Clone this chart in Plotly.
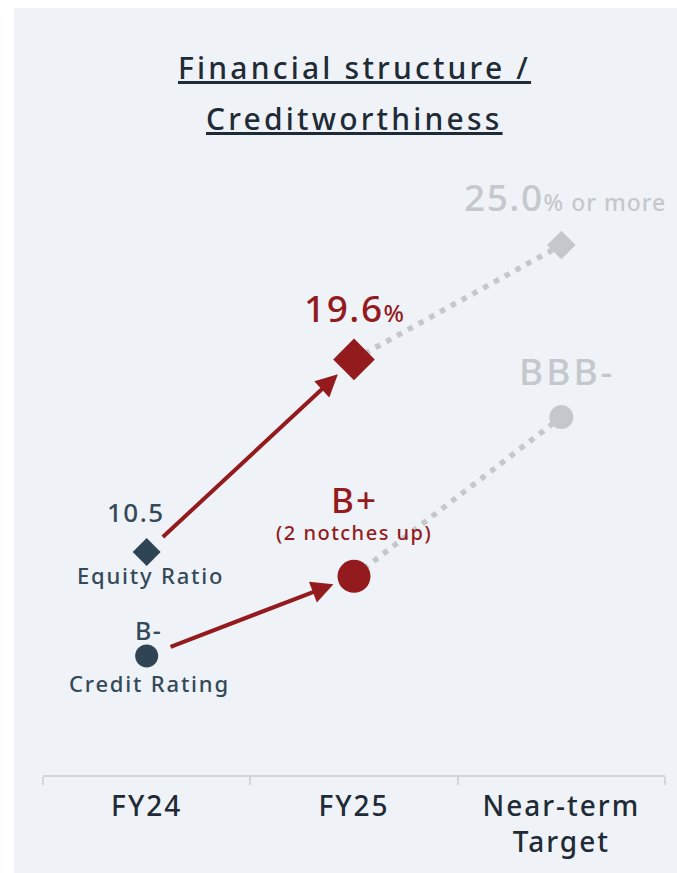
import plotly.graph_objects as go

# ---------------- data ----------------
categories = ["FY24", "FY25", "Near-term Target"]
tick_labels = ["FY24", "FY25", "Near-term<br>Target"]
equity_ratio = [10.5, 19.6, 25.0]
rating_scale = ["B-", "B", "B+", "BB-", "BB", "BB+", "BBB-"]
credit_rating = ["B-", "B+", "BBB-"]
credit_note = "(2 notches up)"
series_names = ["Equity Ratio", "Credit Rating"]
title_lines = ["Financial structure /", "Creditworthiness"]

credit_idx = [rating_scale.index(r) for r in credit_rating]

# ---------------- styles ----------------
FONT = "Noto Sans"
DARK = "#2f4555"
RED = "#931b1e"
GRAY = "#c4c8cc"
TEXT = "#1f2b36"
LABEL = "#34495a"
PANEL = "#eff3f7"
point_colors = [DARK, RED, GRAY]


def sp(text, ls=1.5, size=None):
    style = f"letter-spacing:{ls}px"
    if size:
        style += f";font-size:{size}px"
    return f'<span style="{style}">{text}</span>'


fig = go.Figure()

# dotted projection lines (FY25 -> target)
fig.add_trace(go.Scatter(
    x=categories[1:], y=equity_ratio[1:], mode="lines",
    line=dict(color=GRAY, width=5.5, dash="5.5px,6.8px"),
    hoverinfo="skip", showlegend=False, yaxis="y"))
fig.add_trace(go.Scatter(
    x=categories[1:], y=credit_idx[1:], mode="lines",
    line=dict(color=GRAY, width=5.5, dash="5.5px,6.8px"),
    hoverinfo="skip", showlegend=False, yaxis="y2"))

# markers
fig.add_trace(go.Scatter(
    x=categories, y=equity_ratio, mode="markers", name=series_names[0],
    marker=dict(symbol="diamond", size=[21.5, 32, 22], color=point_colors,
                opacity=1, line=dict(width=0)),
    showlegend=False, yaxis="y"))
fig.add_trace(go.Scatter(
    x=categories, y=credit_idx, mode="markers", name=series_names[1],
    marker=dict(symbol="circle", size=[23, 33, 24], color=point_colors,
                opacity=1, line=dict(width=0)),
    showlegend=False, yaxis="y2"))

ann = []
# titles
for txt, yy in zip(title_lines, [1.132, 1.0496]):
    ann.append(dict(text=sp(txt, 3.2), xref="paper", yref="paper", x=0.5, y=yy,
                    showarrow=False, xanchor="center", yanchor="middle",
                    font=dict(family=FONT, size=30, color=TEXT, weight=500,
                              lineposition="under")))

# arrows FY24 -> FY25
ann.append(dict(x=categories[1], y=equity_ratio[1], ax=categories[0], ay=equity_ratio[0],
                xref="x", yref="y", axref="x", ayref="y", text="", showarrow=True,
                arrowhead=2, arrowsize=1.1, arrowwidth=4, arrowcolor=RED,
                standoff=22, startstandoff=20))
ann.append(dict(x=categories[1], y=credit_idx[1], ax=categories[0], ay=credit_idx[0],
                xref="x", yref="y2", axref="x", ayref="y2", text="", showarrow=True,
                arrowhead=2, arrowsize=1.1, arrowwidth=4, arrowcolor=RED,
                standoff=22, startstandoff=24))


def lab(text, x, y, yref, xs, ys, size, color):
    return dict(text=text, x=x, y=y, xref="x", yref=yref, xshift=xs, yshift=ys,
                showarrow=False, xanchor="center", yanchor="middle",
                font=dict(family=FONT, size=size, color=color, weight=500))


# equity labels
ann.append(lab(sp(f"{equity_ratio[0]:.1f}", 1.5), categories[0], equity_ratio[0], "y", -11, 40, 26, LABEL))
ann.append(lab(sp(series_names[0], 1.8), categories[0], equity_ratio[0], "y", 4, -23, 22, LABEL))
ann.append(lab(sp(f"{equity_ratio[1]:.1f}", 1.5) + sp("%", 1, 24), categories[1], equity_ratio[1], "y", 0, 52, 37, RED))
ann.append(lab(sp(f"{equity_ratio[2]:.1f}", 1.5) + sp("% or more", 1, 23), categories[2], equity_ratio[2], "y", 3.5, 49, 37, GRAY))

# credit labels
ann.append(lab(sp(credit_rating[0], 1.5), categories[0], credit_idx[0], "y2", 2, 26, 25, LABEL))
ann.append(lab(sp(series_names[1], 1.8), categories[0], credit_idx[0], "y2", 3, -27, 22, LABEL))
ann.append(lab(sp(credit_rating[1], 2), categories[1], credit_idx[1], "y2", 0, 77, 35, RED))
ann.append(lab(sp(credit_note, 1.5), categories[1], credit_idx[1], "y2", 0, 44, 20, RED))
ann.append(lab(sp(credit_rating[2], 3), categories[2], credit_idx[2], "y2", 6, 47, 37, GRAY))

left_edge = (14 - 43) / 622
top_edge = (775 - 8) / 625

fig.update_layout(
    width=677, height=873, autosize=False,
    margin=dict(l=43, r=12, t=150, b=98, pad=0),
    paper_bgcolor=PANEL, plot_bgcolor="rgba(0,0,0,0)",
    showlegend=False,
    font=dict(family=FONT, color=TEXT),
    xaxis=dict(type="category", categoryorder="array", categoryarray=categories,
               tickvals=categories, ticktext=[sp(t, 2) for t in tick_labels],
               range=[-0.5, 2.5], tickson="boundaries",
               showline=True, linecolor="#d2d5d9", linewidth=2,
               ticks="outside", ticklen=8, tickwidth=2, tickcolor="#d2d5d9",
               ticklabelstandoff=5,
               showgrid=False, zeroline=False,
               tickfont=dict(family=FONT, size=28, color=TEXT, weight=500)),
    yaxis=dict(range=[-0.03, 29.49], visible=False, showgrid=False, zeroline=False),
    yaxis2=dict(range=[-2.99, 12.71], overlaying="y", visible=False,
                showgrid=False, zeroline=False),
    annotations=ann,
    shapes=[
        dict(type="rect", xref="paper", yref="paper", layer="below",
             x0=-0.2, x1=left_edge, y0=-0.3, y1=1.5,
             fillcolor="white", line=dict(width=0)),
        dict(type="rect", xref="paper", yref="paper", layer="below",
             x0=-0.2, x1=1.2, y0=top_edge, y1=1.5,
             fillcolor="white", line=dict(width=0)),
    ],
)

fig.write_html("out.html", config={"displayModeBar": False},
               post_script="document.body.style.margin='0px';document.body.style.overflow='hidden';")
